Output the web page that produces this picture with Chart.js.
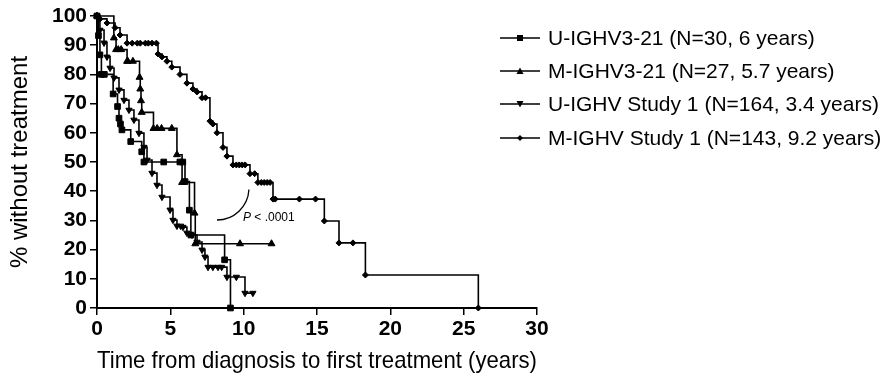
<!DOCTYPE html>
<html lang="en">
<head>
<meta charset="UTF-8">
<title>Tempo até o primeiro tratamento</title>
<script src="https://cdn.jsdelivr.net/npm/chart.js"></script>
<style>
  body { margin: 0; background: #fff; }
  .wrap { position: relative; width: 891px; height: 389px; }
  .legenda { position: absolute; left: 500px; top: 21px; font-family: "Liberation Sans", Arial, sans-serif; font-size: 21px; color: #000; }
  .item { display: flex; align-items: center; height: 33.4px; white-space: nowrap; }
  .item svg { margin-right: 8px; }
</style>
</head>
<body>
<div class="wrap">
  <canvas id="grafico" width="891" height="389"></canvas>
  <div class="legenda" id="legenda"></div>
</div>
<script>
// rótulos da legenda
var rotulos = [
  'U-IGHV3-21 (N=30, 6 years)',
  'M-IGHV3-21 (N=27, 5.7 years)',
  'U-IGHV Study 1 (N=164, 3.4 years)',
  'M-IGHV Study 1 (N=143, 9.2 years)'
];

// U-IGHV3-21 (quadrados) - degraus e censuras
var u321T = [0, 0.1, 0.2, 0.3, 1.1, 1.4, 1.5, 1.6, 1.7, 2.3, 3.05, 3.2, 6.0, 6.3, 6.4, 8.7, 9.1];
var u321S = [100, 93.3, 86.7, 80, 73.3, 69, 65, 63, 61, 57, 53.5, 50, 43.3, 33.5, 25, 16.5, 0];
var u321CT = [0.5, 4.55, 5.65, 5.85];
var u321CS = [80, 50, 50, 50];

// M-IGHV3-21 (triângulos)
var m321T = [0, 1.15, 1.3, 2.05, 2.9, 2.95, 3.0, 3.05, 3.85, 5.45, 5.8, 6.65, 6.7, 11.9];
var m321S = [100, 92.5, 88.5, 84.5, 79, 75, 71, 67, 61.5, 52.5, 43, 32.5, 22, 22];
var m321CT = [1.45, 1.65, 2.1, 2.45, 4.1, 4.4, 5.1, 9.75];
var m321CS = [88.5, 88.5, 84.5, 84.5, 61.5, 61.5, 61.5, 22];

// U-IGHV Study 1 (triângulos invertidos)
var us1T = [0, 0.2, 0.48, 0.68, 0.89, 1.16, 1.5, 1.84, 2.18, 2.52, 2.86, 3.2, 3.41, 3.75, 4.09, 4.43, 4.98, 5.18, 5.45, 5.86, 6.13, 6.48, 6.82, 7.16, 7.36, 7.57, 8.86, 10.09, 10.63];
var us1S = [100, 95.2, 90.8, 86, 82.2, 78.8, 74.7, 71.2, 67.8, 64.4, 59.9, 55.1, 50.7, 46.2, 42.1, 38, 33.6, 30.1, 28.1, 27.7, 25.7, 25, 22.6, 19.9, 17.5, 14, 10.6, 5.1, 5.1];
var us1CT = [5.7, 7.9, 8.25, 8.5, 9.5];
var us1CS = [28.1, 14, 14, 14, 10.6];

// M-IGHV Study 1 (losangos)
var ms1T = [0, 0.2, 0.68, 1.23, 1.57, 2.05, 4.16, 4.43, 4.77, 5.1, 5.66, 6.13, 6.54, 6.82, 7.16, 7.7, 7.9, 8.18, 8.59, 8.86, 9.27, 10.43, 10.97, 12.0, 15.5, 16.5, 18.3, 26.0];
var ms1S = [100, 99, 97.6, 96, 93.5, 90.7, 87, 86, 84.5, 82.5, 80, 77, 75, 74, 72, 64, 63, 60, 55, 52, 49, 46, 43, 37.3, 29.8, 22.3, 11.3, 0];
var ms1CT = [2.4, 2.75, 2.95, 3.3, 3.5, 3.75, 4.05, 7.4, 9.5, 9.7, 9.9, 10.1, 10.75, 11.2, 11.4, 11.6, 11.8, 12.15, 13.8, 14.9, 17.45];
var ms1CS = [90.7, 90.7, 90.7, 90.7, 90.7, 90.7, 90.7, 72, 49, 49, 49, 49, 46, 43, 43, 43, 43, 37.3, 37.3, 37.3, 22.3];

// eixos
var ticksX = [0, 5, 10, 15, 20, 25, 30];
var ticksY = [0, 10, 20, 30, 40, 50, 60, 70, 80, 90, 100];

var estilos = [
  { forma: 'rect', rot: 0, raio: 4 },
  { forma: 'triangle', rot: 0, raio: 4 },
  { forma: 'triangle', rot: 180, raio: 3.6 },
  { forma: 'rectRot', rot: 0, raio: 3 }
];

function pontos(t, s) {
  return t.map(function (x, i) { return { x: x, y: s[i] }; });
}

function curva(t, s, e) {
  return {
    data: pontos(t, s), stepped: 'before', borderColor: '#000', borderWidth: 1.6,
    pointStyle: e.forma, rotation: e.rot, pointRadius: e.raio,
    pointBackgroundColor: '#000', pointBorderColor: '#000', pointBorderWidth: 1,
    fill: false, clip: false
  };
}

function censuras(t, s, e) {
  return {
    data: pontos(t, s), showLine: false,
    pointStyle: e.forma, rotation: e.rot, pointRadius: e.raio,
    pointBackgroundColor: '#000', pointBorderColor: '#000', pointBorderWidth: 1,
    clip: false
  };
}

var fonte = '"Liberation Sans", Arial, sans-serif';

// arco e texto do P
var notaP = { t: 8.18, s: 41.1, raio: 32 };
var pluginNota = {
  id: 'notaP',
  afterDatasetsDraw: function (chart) {
    var ctx = chart.ctx;
    var cx = chart.scales.x.getPixelForValue(notaP.t);
    var cy = chart.scales.y.getPixelForValue(notaP.s);
    ctx.save();
    ctx.strokeStyle = '#000';
    ctx.lineWidth = 1.3;
    ctx.beginPath();
    ctx.arc(cx, cy, notaP.raio, 0.05, Math.PI / 2);
    ctx.stroke();
    ctx.fillStyle = '#000';
    ctx.textBaseline = 'middle';
    ctx.font = 'italic 12px ' + fonte;
    var px = cx + 26, py = cy + 30;
    ctx.fillText('P', px, py);
    var w = ctx.measureText('P').width;
    ctx.font = '12px ' + fonte;
    ctx.fillText(' < .0001', px + w, py);
    ctx.restore();
  }
};

new Chart(document.getElementById('grafico'), {
  type: 'line',
  data: {
    datasets: [
      curva(u321T, u321S, estilos[0]), censuras(u321CT, u321CS, estilos[0]),
      curva(m321T, m321S, estilos[1]), censuras(m321CT, m321CS, estilos[1]),
      curva(us1T, us1S, estilos[2]), censuras(us1CT, us1CS, estilos[2]),
      curva(ms1T, ms1S, estilos[3]), censuras(ms1CT, ms1CS, estilos[3])
    ]
  },
  options: {
    responsive: false,
    animation: false,
    layout: { padding: { left: 0, right: 354, top: 16, bottom: 0 } },
    plugins: { legend: { display: false }, tooltip: { enabled: false } },
    scales: {
      x: {
        type: 'linear', min: 0, max: 30,
        afterBuildTicks: function (s) { s.ticks = ticksX.map(function (v) { return { value: v }; }); },
        afterFit: function (s) { s.height = 81; },
        ticks: { color: '#000', padding: 2, font: { family: fonte, size: 21, weight: 'bold' } },
        grid: { drawOnChartArea: false, drawTicks: true, tickLength: 7, color: '#000', lineWidth: 1.5 },
        border: { color: '#000', width: 2 },
        title: { display: true, text: 'Time from diagnosis to first treatment (years)', color: '#000',
                 font: { family: fonte, size: 24 }, padding: { top: 0, bottom: 13 } }
      },
      y: {
        min: 0, max: 100,
        afterBuildTicks: function (s) { s.ticks = ticksY.map(function (v) { return { value: v }; }); },
        afterFit: function (s) { s.width = 97; },
        ticks: { color: '#000', padding: 3, font: { family: fonte, size: 21, weight: 'bold' } },
        grid: { drawOnChartArea: false, drawTicks: true, tickLength: 7, color: '#000', lineWidth: 1.5 },
        border: { color: '#000', width: 2 },
        title: { display: true, text: '% without treatment', color: '#000',
                 font: { family: fonte, size: 24 }, padding: { top: 6, bottom: 0 } }
      }
    }
  },
  plugins: [pluginNota]
});

// legenda em HTML
var svgForma = [
  '<rect x="17" y="3" width="6" height="6" fill="#000"/>',
  '<polygon points="20,2.5 23.5,9 16.5,9" fill="#000"/>',
  '<polygon points="16.5,3 23.5,3 20,9.5" fill="#000"/>',
  '<polygon points="20,3 23,6 20,9 17,6" fill="#000"/>'
];
var leg = document.getElementById('legenda');
rotulos.forEach(function (r, i) {
  var d = document.createElement('div');
  d.className = 'item';
  d.innerHTML = '<svg width="40" height="12"><line x1="0" y1="6" x2="40" y2="6" stroke="#000" stroke-width="1.6"/>' +
    svgForma[i] + '</svg><span>' + r + '</span>';
  leg.appendChild(d);
});
</script>
</body>
</html>
